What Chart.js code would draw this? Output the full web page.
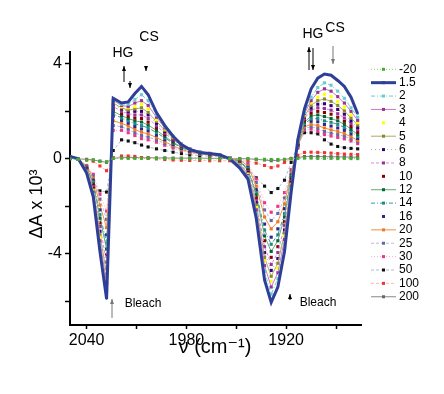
<!DOCTYPE html>
<html><head><meta charset="utf-8">
<style>html,body{margin:0;padding:0;background:#fff;}canvas{display:block;}</style>
<script src="https://cdn.jsdelivr.net/npm/chart.js@4/dist/chart.umd.min.js"></script>
</head><body>
<canvas id="c" width="444" height="394"></canvas>
<script>
// ---- data ----
const wavenumbers = [2050,2045,2040,2036,2032,2028,2024,2019,2015,2011,2007,2003,1998,1993,1988,1983,1978,1972,1966,1960,1954,1948,1943,1938,1933,1929,1925,1921,1917,1913,1909,1905,1901,1897,1893,1889,1885,1881,1877];
const delays = ['-20','1.5','2','3','4','5','6','8','10','12','14','16','20','25','30','50','100','200'];
const s_m20 = [0.0,-0.02,-0.05,-0.05,-0.1,-0.12, 0.02,0.03,0.02,0.02,0.02,0.02,0.01,0.01,0.01,0.01,0.0,0.0,0.0,0.0,0.0, 0.0,0.0,-0.02,-0.02,-0.03,-0.03,-0.02,0.0, 0.02,0.03,0.03,0.02,0.02,0.02,0.01,0.02,0.01,0.01];
const s_1_5 = [0.1,0.0,-0.6,-1.6,-3.9,-5.9, 2.55,2.35,2.4,2.75,3.05,2.7,1.95,1.4,0.95,0.6,0.4,0.27,0.22,0.17,0.0, -0.38,-0.85,-2.5,-5.1,-6.05,-5.4,-3.9,-1.4, 0.8,2.1,2.95,3.4,3.57,3.52,3.3,3.05,2.6,1.9];
const s_2 = [0.1,0.0,-0.55,-1.5,-3.65,-5.55, 2.5,2.3,2.3,2.5,2.7,2.45,1.85,1.35,0.95,0.62,0.42,0.3,0.23,0.17,0.02, -0.3,-0.75,-2.3,-4.75,-5.7,-5.05,-3.6,-1.25, 0.75,1.95,2.6,3.0,3.2,3.1,2.85,2.55,2.15,1.75];
const s_3 = [0.1,0.0,-0.5,-1.4,-3.45,-5.25, 2.45,2.25,2.2,2.35,2.45,2.25,1.75,1.3,0.92,0.62,0.43,0.3,0.23,0.17,0.03, -0.27,-0.7,-2.15,-4.5,-5.4,-4.8,-3.4,-1.15, 0.72,1.9,2.45,2.8,2.95,2.85,2.62,2.35,2.0,1.62];
const s_4 = [0.1,0.0,-0.5,-1.35,-3.3,-5.0, 2.4,2.2,2.15,2.2,2.3,2.1,1.65,1.25,0.9,0.6,0.42,0.3,0.23,0.17,0.03, -0.25,-0.66,-2.05,-4.3,-5.15,-4.6,-3.25,-1.1, 0.7,1.85,2.35,2.6,2.72,2.62,2.42,2.18,1.85,1.52];
const s_5 = [0.1,0.0,-0.48,-1.3,-3.2,-4.85, 2.35,2.15,2.05,2.1,2.15,1.95,1.58,1.2,0.87,0.58,0.41,0.3,0.22,0.16,0.03, -0.22,-0.62,-1.95,-4.15,-4.95,-4.4,-3.15,-1.05, 0.68,1.8,2.25,2.45,2.52,2.42,2.25,2.02,1.72,1.42];
const s_6 = [0.1,0.0,-0.46,-1.25,-3.05,-4.6, 2.3,2.1,2.0,2.0,2.0,1.85,1.5,1.15,0.84,0.56,0.4,0.29,0.22,0.16,0.03, -0.2,-0.58,-1.85,-3.95,-4.7,-4.2,-3.0,-1.0, 0.66,1.75,2.15,2.3,2.32,2.24,2.08,1.88,1.6,1.32];
const s_8 = [0.1,0.0,-0.44,-1.18,-2.85,-4.35, 2.2,2.0,1.9,1.85,1.85,1.7,1.4,1.08,0.8,0.54,0.38,0.28,0.21,0.15,0.03, -0.18,-0.54,-1.75,-3.7,-4.45,-3.95,-2.8,-0.95, 0.64,1.7,2.05,2.15,2.12,2.05,1.9,1.72,1.48,1.22];
const s_10 = [0.1,0.0,-0.42,-1.1,-2.7,-4.05, 2.1,1.9,1.8,1.72,1.7,1.55,1.3,1.02,0.75,0.52,0.37,0.27,0.2,0.15,0.03, -0.15,-0.5,-1.65,-3.45,-4.15,-3.7,-2.65,-0.88, 0.62,1.62,1.92,2.0,1.95,1.88,1.75,1.58,1.36,1.12];
const s_12 = [0.1,0.0,-0.4,-1.05,-2.5,-3.8, 2.0,1.82,1.7,1.6,1.55,1.42,1.2,0.95,0.7,0.5,0.35,0.26,0.2,0.14,0.03, -0.13,-0.45,-1.52,-3.25,-3.9,-3.45,-2.45,-0.8, 0.6,1.55,1.8,1.85,1.78,1.7,1.6,1.45,1.25,1.02];
const s_14 = [0.1,0.0,-0.38,-0.98,-2.35,-3.55, 1.9,1.72,1.6,1.48,1.4,1.3,1.1,0.88,0.66,0.47,0.33,0.25,0.19,0.14,0.03, -0.1,-0.4,-1.42,-3.0,-3.6,-3.2,-2.3,-0.75, 0.57,1.48,1.68,1.7,1.6,1.54,1.45,1.32,1.15,0.94];
const s_16 = [0.08,0.0,-0.35,-0.9,-2.15,-3.2, 1.8,1.62,1.5,1.36,1.26,1.18,1.0,0.8,0.6,0.44,0.31,0.24,0.18,0.13,0.03, -0.08,-0.36,-1.3,-2.75,-3.3,-2.95,-2.1,-0.68, 0.55,1.42,1.58,1.56,1.45,1.38,1.3,1.2,1.05,0.86];
const s_20 = [0.08,0.0,-0.32,-0.82,-1.95,-2.9, 1.6,1.5,1.38,1.24,1.12,1.05,0.9,0.72,0.55,0.4,0.29,0.22,0.17,0.13,0.03, -0.05,-0.3,-1.15,-2.45,-2.95,-2.65,-1.9,-0.6, 0.52,1.35,1.45,1.4,1.3,1.22,1.15,1.06,0.93,0.78];
const s_25 = [0.06,0.0,-0.3,-0.72,-1.7,-2.55, 1.4,1.35,1.24,1.1,0.98,0.92,0.8,0.64,0.5,0.37,0.27,0.21,0.16,0.12,0.03, -0.03,-0.25,-1.0,-2.15,-2.6,-2.3,-1.65,-0.52, 0.48,1.28,1.35,1.28,1.15,1.08,1.02,0.95,0.84,0.71];
const s_30 = [0.05,0.0,-0.28,-0.65,-1.5,-2.2, 1.2,1.2,1.1,0.98,0.85,0.8,0.7,0.57,0.45,0.34,0.25,0.2,0.15,0.11,0.03, 0.0,-0.2,-0.85,-1.85,-2.25,-2.0,-1.42,-0.45, 0.45,1.22,1.25,1.15,1.02,0.96,0.9,0.84,0.75,0.64];
const s_50 = [0.05,0.0,-0.4,-1.0,-1.35,-1.4, 0.35,0.8,0.75,0.68,0.58,0.5,0.42,0.35,0.28,0.22,0.17,0.14,0.11,0.09,0.02, -0.1,-0.45,-0.8,-1.15,-1.42,-1.25,-0.9,-0.15, 0.6,1.1,1.1,1.05,0.8,0.62,0.52,0.47,0.44,0.42];
const s_100 = [0.02,0.0,-0.05,-0.1,-0.3,-0.5, 0.05,0.12,0.12,0.1,0.05,0.02,0.0,-0.03,-0.05,-0.06,-0.07,-0.07,-0.08,-0.08,-0.08, -0.08,-0.1,-0.18,-0.28,-0.37,-0.3,-0.15,0.0, 0.15,0.27,0.28,0.27,0.26,0.24,0.22,0.2,0.19,0.18];
const s_200 = [0.02,0.0,-0.02,-0.05,-0.1,-0.15, 0.02,0.05,0.05,0.05,0.05,0.05,0.04,0.04,0.03,0.03,0.03,0.03,0.02,0.02,0.01, 0.01,0.0,-0.02,-0.05,-0.08,-0.06,-0.03,0.02, 0.05,0.1,0.1,0.1,0.09,0.09,0.08,0.08,0.07,0.07];
const seriesValues = [s_m20,s_1_5,s_2,s_3,s_4,s_5,s_6,s_8,s_10,s_12,s_14,s_16,s_20,s_25,s_30,s_50,s_100,s_200];
const xTickLabels = [2040,1980,1920];
const yTickLabels = [4,0,-4];

// ---- styles ----
const styles = [
  {line:'#88cc66', dash:[1,2], mark:'#44aa33', w:1},
  {line:'#2e3f98', dash:[], mark:'#2e3f98', w:3},
  {line:'#66cccc', dash:[4,2,1,2], mark:'#66cccc', w:1},
  {line:'#cc77cc', dash:[], mark:'#993399', w:1},
  {line:'#ffff00', dash:[], mark:'#ffff00', w:1, noLine:true},
  {line:'#aaaa66', dash:[], mark:'#888833', w:1},
  {line:'#aaaaaa', dash:[1,3], mark:'#330077', w:1},
  {line:'#dd88dd', dash:[3,2], mark:'#993399', w:1},
  {line:'#880000', dash:[], mark:'#880000', w:1, noLine:true},
  {line:'#66aa77', dash:[], mark:'#006633', w:1},
  {line:'#339999', dash:[4,2,1,2], mark:'#228888', w:1},
  {line:'#332288', dash:[], mark:'#332288', w:1, noLine:true},
  {line:'#f09040', dash:[], mark:'#ee7722', w:1},
  {line:'#bbbbdd', dash:[3,2], mark:'#6666aa', w:1},
  {line:'#ffaacc', dash:[1,2], mark:'#ee3388', w:1},
  {line:'#aabbcc', dash:[3,2], mark:'#111111', w:1},
  {line:'#ffbbaa', dash:[3,2], mark:'#ee3333', w:1},
  {line:'#888888', dash:[], mark:'#666666', w:1}
];
const FONT = "'Liberation Sans', Arial, 'DejaVu Sans', sans-serif";

const datasets = delays.map((lab, i) => ({
  label: lab,
  data: wavenumbers.map((x, j) => ({x: x, y: seriesValues[i][j]})),
  borderColor: styles[i].line,
  borderDash: styles[i].dash,
  borderWidth: styles[i].w,
  showLine: !styles[i].noLine,
  pointStyle: 'rect',
  pointRadius: i === 1 ? 1.2 : 2.2,
  pointBackgroundColor: styles[i].mark,
  pointBorderWidth: 0,
  tension: 0,
  fill: false
}));

function vArrow(ctx, x, yTail, yHead, color, lw) {
  ctx.save();
  ctx.strokeStyle = color; ctx.fillStyle = color; ctx.lineWidth = lw || 1;
  ctx.beginPath(); ctx.moveTo(x, yTail); ctx.lineTo(x, yHead); ctx.stroke();
  const d = yHead < yTail ? 1 : -1;
  ctx.beginPath(); ctx.moveTo(x, yHead); ctx.lineTo(x - 2, yHead + d * 5); ctx.lineTo(x + 2, yHead + d * 5); ctx.closePath(); ctx.fill();
  ctx.restore();
}

const decor = {
  id: 'decor',
  afterDraw(chart) {
    const ctx = chart.ctx;
    ctx.save();
    ctx.fillStyle = '#000';
    ctx.textAlign = 'center'; ctx.textBaseline = 'middle';
    // axis titles
    ctx.font = '20px ' + FONT;
    ctx.fillText('\u03BD (cm\u207B\u00B9)', 215, 347);
    ctx.font = '18px ' + FONT;
    ctx.save(); ctx.translate(37, 204); ctx.rotate(-Math.PI / 2);
    ctx.fillText('\u0394A x 10\u00B3', 0, 0); ctx.restore();
    // annotations
    ctx.font = '14px ' + FONT;
    ctx.fillText('HG', 123, 53);
    ctx.fillText('CS', 149, 37);
    ctx.fillText('HG', 313, 34);
    ctx.fillText('CS', 335, 28);
    ctx.font = '12px ' + FONT;
    ctx.fillText('Bleach', 143, 304);
    ctx.fillText('Bleach', 318, 303);
    vArrow(ctx, 124, 82, 66, '#000', 1);
    vArrow(ctx, 130, 81, 88, '#000', 1);
    vArrow(ctx, 146, 66, 71, '#000', 1);
    vArrow(ctx, 309, 70, 47, '#000', 1);
    vArrow(ctx, 313, 48, 70, '#000', 1);
    vArrow(ctx, 333, 46, 64, '#777', 1);
    vArrow(ctx, 112, 318, 299, '#777', 1);
    vArrow(ctx, 290, 300, 294, '#000', 1);
    // legend
    const y0 = 69.3, dy = 13.38;
    chart.data.datasets.forEach((ds, i) => {
      const y = y0 + i * dy;
      const st = styles[i];
      if (!st.noLine) {
        ctx.save();
        ctx.strokeStyle = st.line; ctx.lineWidth = st.w; ctx.setLineDash(st.dash);
        ctx.beginPath(); ctx.moveTo(371, y); ctx.lineTo(396, y); ctx.stroke();
        ctx.restore();
      }
      ctx.fillStyle = st.mark;
      ctx.fillRect(382, y - 1.5, 3, 3);
      ctx.fillStyle = '#000';
      ctx.textAlign = 'left';
      ctx.font = '12px ' + FONT;
      ctx.fillText(ds.label, 399, y);
    });
    ctx.restore();
  }
};

new Chart(document.getElementById('c'), {
  type: 'line',
  data: {datasets: datasets},
  options: {
    responsive: false, animation: false, devicePixelRatio: 1,
    layout: {padding: {top: 52, right: 83, left: 0, bottom: 0}},
    plugins: {legend: {display: false}, tooltip: {enabled: false}},
    scales: {
      x: {
        type: 'linear', reverse: true, min: 1875, max: 2050,
        border: {display: true, color: '#000', width: 2},
        grid: {drawOnChartArea: false, drawTicks: true, tickLength: 4, tickColor: '#000', tickWidth: 1.5},
        ticks: {stepSize: 30, includeBounds: false, autoSkip: false, maxRotation: 0, padding: 2, color: '#000',
          font: {family: FONT, size: 16},
          callback: v => xTickLabels.includes(v) ? String(v) : ''},
        afterFit(s) { s.height = 69; }
      },
      y: {
        type: 'linear', min: -7, max: 4.5,
        border: {display: true, color: '#000', width: 2},
        grid: {drawOnChartArea: false, drawTicks: true, tickLength: 5, tickColor: '#000', tickWidth: 1.5},
        ticks: {stepSize: 2, includeBounds: false, autoSkip: false, padding: 3, color: '#000',
          font: {family: FONT, size: 16},
          callback: v => yTickLabels.includes(v) ? String(v) : ''},
        afterFit(s) { s.width = 70; }
      }
    }
  },
  plugins: [decor]
});
</script>
</body></html>
